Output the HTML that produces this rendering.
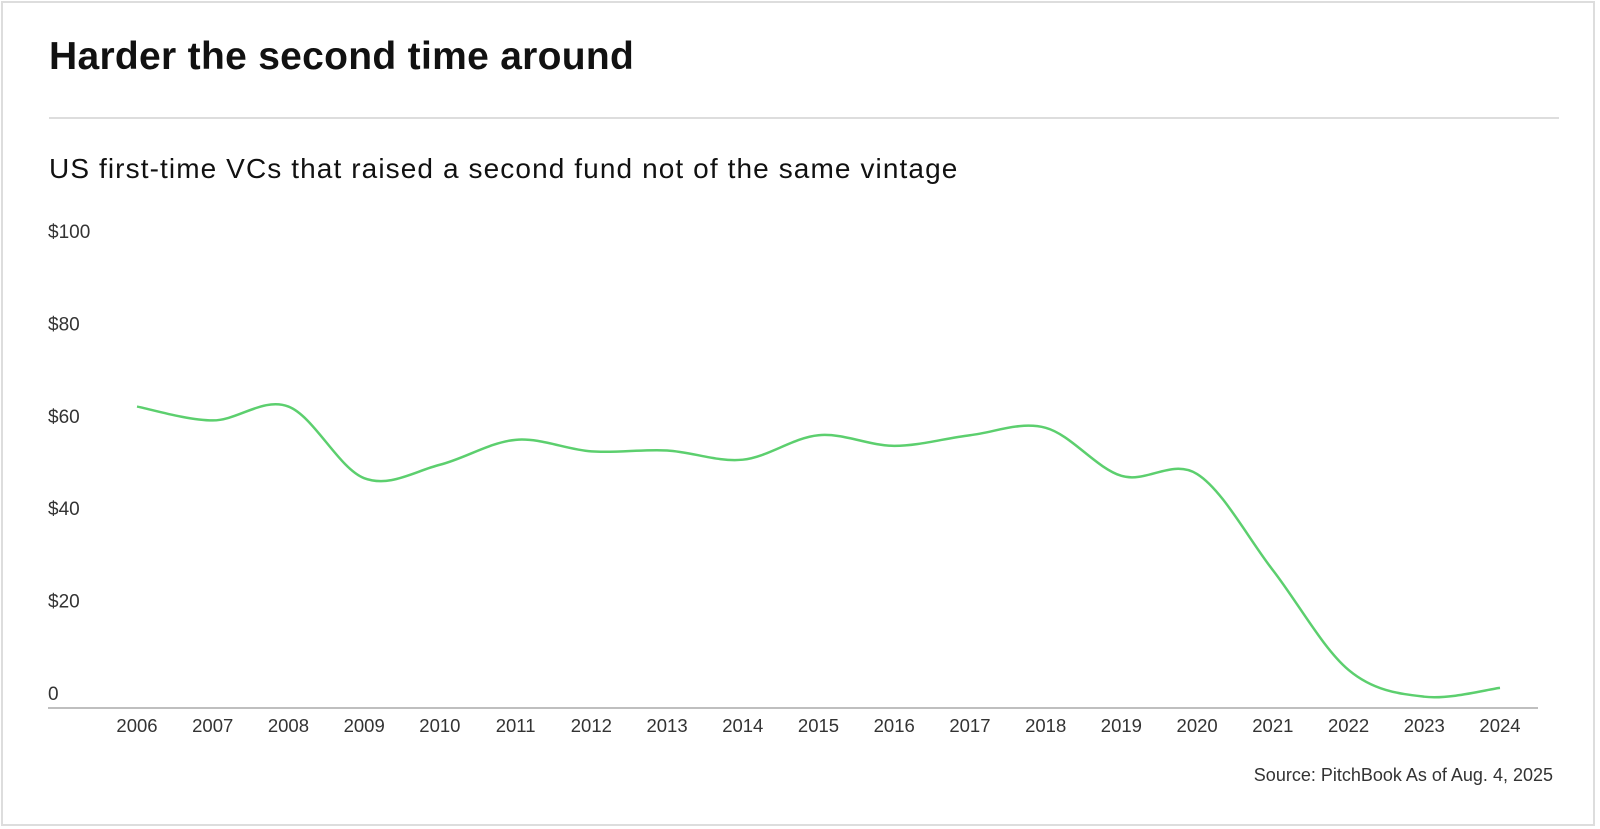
<!DOCTYPE html>
<html><head><meta charset="utf-8"><style>
html,body{margin:0;padding:0;background:#fff;}
body{width:1600px;height:829px;overflow:hidden;font-family:"Liberation Sans",sans-serif;}
.card{position:absolute;left:1px;top:1px;width:1594px;height:825px;border:2px solid #ddd;box-sizing:border-box;}
.title{position:absolute;left:49px;top:35px;font-size:39px;font-weight:bold;color:#111;letter-spacing:0.3px;}
.sep{position:absolute;left:49px;top:117px;width:1510px;height:2px;background:#ddd;}
.sub{position:absolute;left:49px;top:153px;font-size:28px;color:#111;letter-spacing:1.1px;}
.src{position:absolute;right:47px;top:765px;font-size:18px;color:#333;}
svg{position:absolute;left:0;top:0;}
</style></head><body>
<div class="card"></div>
<div class="title">Harder the second time around</div>
<div class="sep"></div>
<div class="sub">US first-time VCs that raised a second fund not of the same vintage</div>
<div class="src">Source: PitchBook As of Aug. 4, 2025</div>
<svg id="chart" width="1600" height="829"></svg>
<script>
const years = [2006,2007,2008,2009,2010,2011,2012,2013,2014,2015,2016,2017,2018,2019,2020,2021,2022,2023,2024];
const values = [62,59,62,46.5,49.4,54.8,52.3,52.5,50.5,55.8,53.5,55.8,57.4,47,47.4,26.6,5,-0.8,1.1];
const yTicks = [0,20,40,60,80,100];
const yTickLabels = ["0","$20","$40","$60","$80","$100"];

const svg = document.getElementById('chart');
const NS = 'http://www.w3.org/2000/svg';
const x0 = 137, xStep = (1500-137)/(years.length-1);
function xScale(i){ return x0 + i*xStep; }
function yScale(v){ return 693 - v*4.62; }

yTicks.forEach((t,i)=>{
  const tx = document.createElementNS(NS,'text');
  
  
  tx.setAttribute('x', 48);
  tx.setAttribute('y', yScale(t)+7);
  tx.setAttribute('font-size', '19');
  tx.setAttribute('fill', '#333');
  tx.setAttribute('font-family', 'Liberation Sans, sans-serif');
  tx.textContent = yTickLabels[i];
  svg.appendChild(tx);
});

const axis = document.createElementNS(NS,'line');


axis.setAttribute('x1', 48); axis.setAttribute('x2', 1538);
axis.setAttribute('y1', 708); axis.setAttribute('y2', 708);
axis.setAttribute('stroke', '#aaa'); axis.setAttribute('stroke-width', '1.5');
svg.appendChild(axis);

years.forEach((yr,i)=>{
  const tx = document.createElementNS(NS,'text');
  
  
  tx.setAttribute('x', xScale(i));
  tx.setAttribute('y', 732);
  tx.setAttribute('text-anchor', 'middle');
  tx.setAttribute('font-size', '18.5');
  tx.setAttribute('fill', '#333');
  tx.setAttribute('font-family', 'Liberation Sans, sans-serif');
  tx.textContent = yr;
  svg.appendChild(tx);
});

const pts = values.map((v,i)=>[xScale(i), yScale(v)]);
let d = 'M'+pts[0][0]+','+pts[0][1];
for(let i=0;i<pts.length-1;i++){
  const p0 = pts[i-1]||pts[i], p1 = pts[i], p2 = pts[i+1], p3 = pts[i+2]||pts[i+1];
  const c1x = p1[0]+(p2[0]-p0[0])/6, c1y = p1[1]+(p2[1]-p0[1])/6;
  const c2x = p2[0]-(p3[0]-p1[0])/6, c2y = p2[1]-(p3[1]-p1[1])/6;
  d += ' C'+c1x+','+c1y+' '+c2x+','+c2y+' '+p2[0]+','+p2[1];
}
const path = document.createElementNS(NS,'path');


path.setAttribute('d', d);
path.setAttribute('fill', 'none');
path.setAttribute('stroke', '#5ccf6e');
path.setAttribute('stroke-width', '2.5');
svg.appendChild(path);
</script>
</body></html>
